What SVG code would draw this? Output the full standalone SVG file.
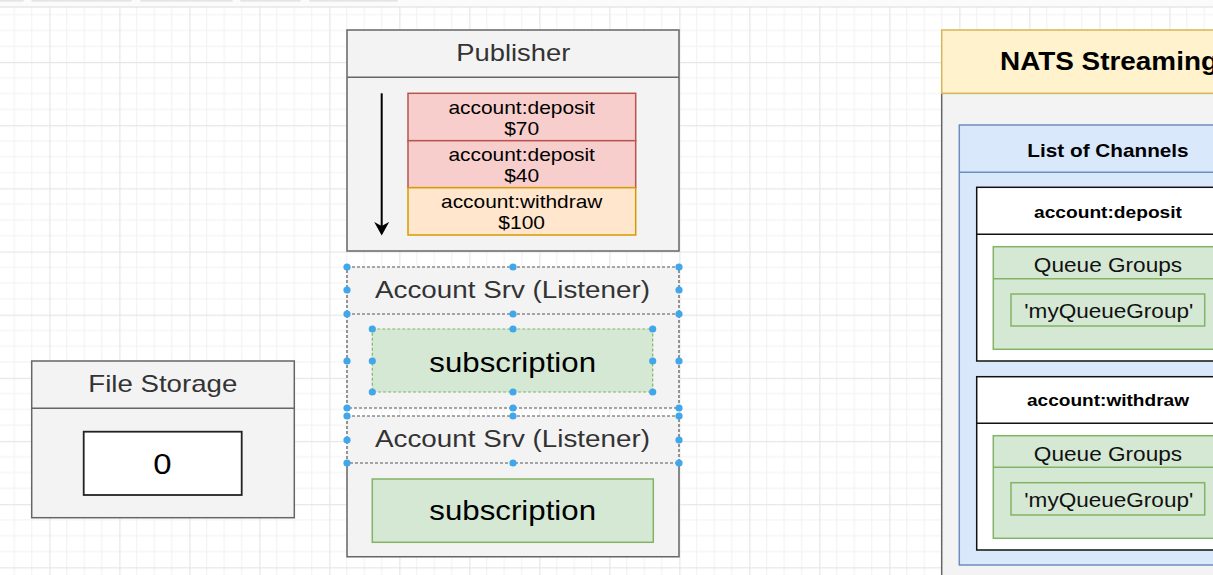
<svg xmlns="http://www.w3.org/2000/svg" width="1213" height="575" viewBox="0 0 1213 575">
<defs>
<pattern id="grid" patternUnits="userSpaceOnUse" x="49.3" y="62" width="70" height="63.16">
<rect x="17" y="0" width="1" height="63.16" fill="#f1f1f1"/>
<rect x="34.5" y="0" width="1" height="63.16" fill="#f1f1f1"/>
<rect x="52" y="0" width="1" height="63.16" fill="#f1f1f1"/>
<rect x="0" y="15.3" width="70" height="1" fill="#f1f1f1"/>
<rect x="0" y="31.1" width="70" height="1" fill="#f1f1f1"/>
<rect x="0" y="46.9" width="70" height="1" fill="#f1f1f1"/>
<rect x="0" y="0" width="1.2" height="63.16" fill="#e6e6e6"/>
<rect x="0" y="0" width="70" height="1.2" fill="#e6e6e6"/>
</pattern>
<marker id="arrow" markerWidth="15" markerHeight="14" refX="7.5" refY="6.5" orient="0" markerUnits="userSpaceOnUse">
<path d="M0,0 L7.5,4 L15,0 L7.5,13.5 Z" fill="#000"/>
</marker>
</defs>
<style>
text { font-family: "Liberation Sans", Arial, Helvetica, sans-serif; }
.hdr { fill: #333333; text-anchor: middle; }
.msg { fill: #000; text-anchor: middle; font-size: 18.5px; }
.cont { fill: #f3f3f3; stroke: #666666; stroke-width: 1.5; }
.sel { fill: none; stroke: #555; stroke-width: 1.2; stroke-dasharray: 3 2; }
.h { fill: #3fa7ea; }
.bold { font-weight: bold; fill: #000; text-anchor: middle; }
.qg { fill: #d5e8d4; stroke: #82b366; stroke-width: 1.5; }
.q { fill: #111; text-anchor: middle; font-size: 21px; }
</style>

<!-- background -->
<rect x="0" y="0" width="1213" height="575" fill="#ffffff"/>
<rect x="0" y="7" width="1213" height="568" fill="url(#grid)"/>
<rect x="0" y="0" width="1213" height="7" fill="#fbfbfb"/>
<g fill="#eeeeee" stroke="#dddddd">
<rect x="-2" y="-5" width="25" height="6"/>
<rect x="32" y="-5" width="99" height="6"/>
<rect x="141" y="-5" width="91" height="6"/>
<rect x="241" y="-5" width="59" height="6"/>
<rect x="310" y="-5" width="87" height="6"/>
</g>
<line x1="0" y1="7" x2="1213" y2="7" stroke="#dcdcdc" stroke-width="1"/>

<!-- Publisher -->
<g id="publisher">
<rect class="cont" x="347" y="30" width="332" height="221"/>
<line x1="347" y1="77.3" x2="679" y2="77.3" stroke="#666" stroke-width="1.5"/>
<text class="hdr" x="513.3" y="61" font-size="24" textLength="114" lengthAdjust="spacingAndGlyphs">Publisher</text>
</g>

<g id="msg1">
<rect x="408" y="93.3" width="227.7" height="47.4" fill="#f8cecc" stroke="#b85450" stroke-width="1.5"/>
<text class="msg" x="521.7" y="114.3" textLength="146.5" lengthAdjust="spacingAndGlyphs">account:deposit</text>
<text class="msg" x="521.7" y="135" textLength="35" lengthAdjust="spacingAndGlyphs">$70</text>
</g>
<g id="msg2">
<rect x="408" y="140.7" width="227.7" height="47" fill="#f8cecc" stroke="#b85450" stroke-width="1.5"/>
<text class="msg" x="521.7" y="161" textLength="146.5" lengthAdjust="spacingAndGlyphs">account:deposit</text>
<text class="msg" x="521.7" y="181.7" textLength="35" lengthAdjust="spacingAndGlyphs">$40</text>
</g>
<g id="msg3">
<rect x="408" y="187.7" width="227.7" height="47.3" fill="#ffe6cc" stroke="#d79b00" stroke-width="1.5"/>
<text class="msg" x="521.7" y="208.3" textLength="161.3" lengthAdjust="spacingAndGlyphs">account:withdraw</text>
<text class="msg" x="521.7" y="229" textLength="46.7" lengthAdjust="spacingAndGlyphs">$100</text>
</g>

<!-- Account Srv 1 (selected) -->
<g id="account-srv-1">
<rect x="347" y="267" width="332" height="141" fill="#f3f3f3"/>
<rect class="sel" x="347" y="267" width="332" height="141"/>
<line class="sel" x1="347" y1="314" x2="679" y2="314"/>
<text class="hdr" x="512.5" y="297.7" font-size="23.5" textLength="275" lengthAdjust="spacingAndGlyphs">Account Srv (Listener)</text>
</g>
<g id="subscription-1">
<rect x="372.3" y="329" width="280.4" height="63" fill="#d5e8d4"/>
<rect x="372.3" y="329" width="280.4" height="63" fill="none" stroke="#82b366" stroke-width="1.2" stroke-dasharray="3 2"/>
<text fill="#000" text-anchor="middle" x="512.7" y="371.7" font-size="28" textLength="166.7" lengthAdjust="spacingAndGlyphs">subscription</text>
</g>

<!-- Account Srv 2 -->
<g id="account-srv-2">
<rect x="347" y="416" width="332" height="140.7" fill="#f3f3f3"/>
<path d="M347,463 L347,556.7 L679,556.7 L679,463" fill="none" stroke="#666" stroke-width="1.5"/>
<rect class="sel" x="347" y="416" width="332" height="47"/>
<text class="hdr" x="512.5" y="446.7" font-size="23.5" textLength="275" lengthAdjust="spacingAndGlyphs">Account Srv (Listener)</text>
</g>
<g id="subscription-2">
<rect x="372.3" y="479" width="281" height="63.3" fill="#d5e8d4" stroke="#82b366" stroke-width="1.5"/>
<text fill="#000" text-anchor="middle" x="512.7" y="520" font-size="28" textLength="166.7" lengthAdjust="spacingAndGlyphs">subscription</text>
</g>

<!-- selection handles -->
<g id="handles" class="h">
<circle cx="347" cy="267" r="3.6"/><circle cx="513" cy="267" r="3.6"/><circle cx="679" cy="267" r="3.6"/>
<circle cx="347" cy="290" r="3.6"/><circle cx="679" cy="290" r="3.6"/>
<circle cx="347" cy="314" r="3.6"/><circle cx="513" cy="314" r="3.6"/><circle cx="679" cy="314" r="3.6"/>
<circle cx="347" cy="361" r="3.6"/><circle cx="679" cy="361" r="3.6"/>
<circle cx="347" cy="408" r="3.6"/><circle cx="513" cy="408" r="3.6"/><circle cx="679" cy="408" r="3.6"/>
<circle cx="372.3" cy="329" r="3.6"/><circle cx="513" cy="329" r="3.6"/><circle cx="652.7" cy="329" r="3.6"/>
<circle cx="372.3" cy="361" r="3.6"/><circle cx="652.7" cy="361" r="3.6"/>
<circle cx="372.3" cy="392" r="3.6"/><circle cx="513" cy="392" r="3.6"/><circle cx="652.7" cy="392" r="3.6"/>
<circle cx="347" cy="416" r="3.6"/><circle cx="513" cy="416" r="3.6"/><circle cx="679" cy="416" r="3.6"/>
<circle cx="347" cy="440" r="3.6"/><circle cx="679" cy="440" r="3.6"/>
<circle cx="347" cy="463" r="3.6"/><circle cx="513" cy="463" r="3.6"/><circle cx="679" cy="463" r="3.6"/>
</g>

<!-- File Storage -->
<g id="file-storage">
<rect class="cont" x="31.7" y="361" width="262.6" height="156.7"/>
<line x1="31.7" y1="408.3" x2="294.3" y2="408.3" stroke="#666" stroke-width="1.5"/>
<text class="hdr" x="162.8" y="392.3" font-size="24" textLength="149" lengthAdjust="spacingAndGlyphs">File Storage</text>
</g>
<g id="file-value">
<rect x="83.7" y="431.7" width="158" height="63.3" fill="#ffffff" stroke="#222" stroke-width="1.8"/>
<text fill="#000" text-anchor="middle" x="162.5" y="474" font-size="29" textLength="18.3" lengthAdjust="spacingAndGlyphs">0</text>
</g>

<!-- NATS Streaming -->
<g id="nats">
<rect x="941.7" y="93.3" width="400" height="520" fill="#f3f3f3" stroke="#666" stroke-width="1.5"/>
<rect x="941.7" y="30" width="400" height="63.3" fill="#fff2cc" stroke="#d6b656" stroke-width="1.5"/>
<text class="bold" x="1000" y="70" font-size="25" style="text-anchor:start" textLength="218" lengthAdjust="spacingAndGlyphs">NATS Streaming</text>
</g>
<g id="channels">
<rect x="959.3" y="125" width="298" height="440" fill="#dae8fc" stroke="#6c8ebf" stroke-width="1.5"/>
<line x1="959.3" y1="172.3" x2="1257.3" y2="172.3" stroke="#6c8ebf" stroke-width="1.5"/>
<text class="bold" x="1108" y="156.7" font-size="19" textLength="161.3" lengthAdjust="spacingAndGlyphs">List of Channels</text>
</g>
<g id="ch-deposit">
<rect x="976.7" y="187.3" width="263" height="173.7" fill="#ffffff" stroke="#111" stroke-width="1.5"/>
<line x1="976.7" y1="234.3" x2="1239.7" y2="234.3" stroke="#111" stroke-width="1.5"/>
<text class="bold" x="1108" y="217.7" font-size="17" textLength="148" lengthAdjust="spacingAndGlyphs">account:deposit</text>
</g>
<g id="qg-deposit">
<rect class="qg" x="993.3" y="246.7" width="229.4" height="102.6"/>
<line x1="993.3" y1="278.7" x2="1222.7" y2="278.7" stroke="#82b366" stroke-width="1.5"/>
<text class="q" x="1108" y="271.7" textLength="148.3" lengthAdjust="spacingAndGlyphs">Queue Groups</text>
</g>
<g id="qn-deposit">
<rect class="qg" x="1011" y="294" width="193.7" height="32"/>
<text class="q" x="1108.8" y="317.7" textLength="169" lengthAdjust="spacingAndGlyphs">'myQueueGroup'</text>
</g>
<g id="ch-withdraw">
<rect x="976.7" y="376.7" width="263" height="173.3" fill="#ffffff" stroke="#111" stroke-width="1.5"/>
<line x1="976.7" y1="423.3" x2="1239.7" y2="423.3" stroke="#111" stroke-width="1.5"/>
<text class="bold" x="1108" y="406" font-size="17" textLength="162" lengthAdjust="spacingAndGlyphs">account:withdraw</text>
</g>
<g id="qg-withdraw">
<rect class="qg" x="993.3" y="435.7" width="229.4" height="102.6"/>
<line x1="993.3" y1="467.3" x2="1222.7" y2="467.3" stroke="#82b366" stroke-width="1.5"/>
<text class="q" x="1108" y="460.7" textLength="148.3" lengthAdjust="spacingAndGlyphs">Queue Groups</text>
</g>
<g id="qn-withdraw">
<rect class="qg" x="1011" y="482.7" width="193.7" height="32.3"/>
<text class="q" x="1108.8" y="506.7" textLength="169" lengthAdjust="spacingAndGlyphs">'myQueueGroup'</text>
</g>

<!-- connectors -->
<g id="connectors">
<line x1="381.7" y1="93.3" x2="381.7" y2="228.5" stroke="#000" stroke-width="2" marker-end="url(#arrow)"/>
</g>
</svg>
